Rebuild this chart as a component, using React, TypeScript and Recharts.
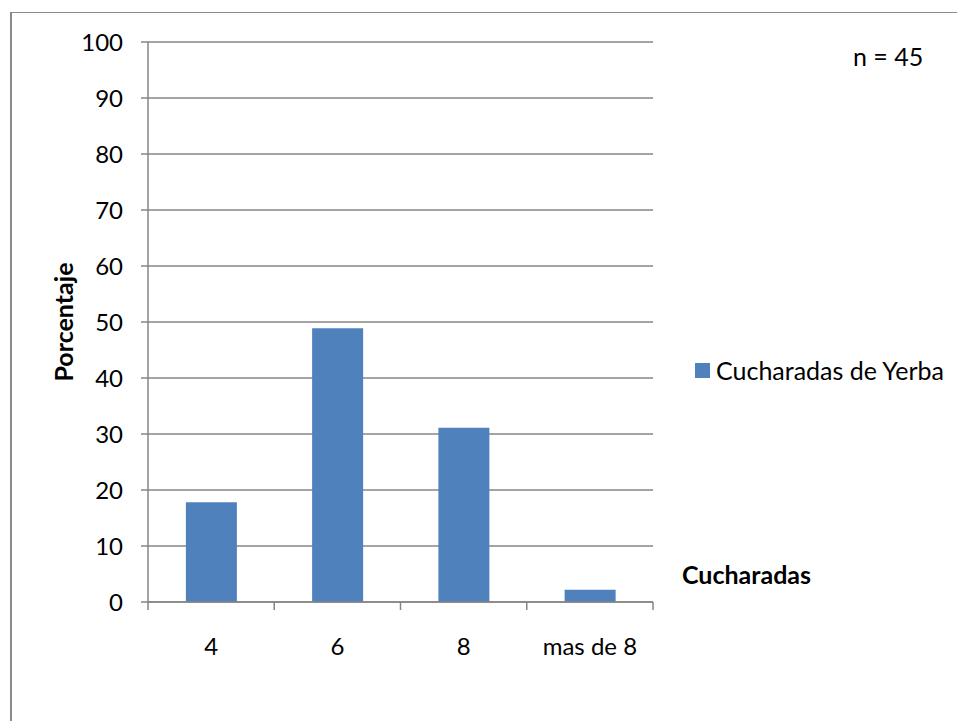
import React from "react";
import { BarChart, Bar, XAxis, YAxis, CartesianGrid, Legend } from "recharts";

const categories = ["4", "6", "8", "mas de 8"];
const porcentajes = [17.8, 48.9, 31.1, 2.2];
const yTicks = [0, 10, 20, 30, 40, 50, 60, 70, 80, 90, 100];
const seriesName = "Cucharadas de Yerba";
const xTitle = "Cucharadas";
const yTitle = "Porcentaje";
const note = "n = 45";

const data = categories.map((c, i) => ({ cat: c, value: porcentajes[i] }));

const FONT = "Lato, 'Open Sans', sans-serif";
const SIZE = 24;
const TEXT_SIZE = 25;
const GRAY = "#868686";
const BLUE = "#4f81bd";

// category ticks sit on the band edges, not the centres
function CatTick(props: any) {
  const { x, y, payload, index, visibleTicksCount } = props;
  const half = payload.offset ?? 63;
  const last = index === visibleTicksCount - 1;
  return (
    <g>
      <line x1={x - half} x2={x - half} y1={y - 8} y2={y} stroke={GRAY} strokeWidth={1.5} />
      {last && <line x1={x + half} x2={x + half} y1={y - 8} y2={y} stroke={GRAY} strokeWidth={1.5} />}
      <text x={x} y={y + 45} textAnchor="middle" fill="#000" fontFamily={FONT} fontSize={SIZE}>
        {payload.value}
      </text>
    </g>
  );
}

function LegendBox(props: any) {
  const item = props.payload?.[0];
  return (
    <div style={{ display: "flex", alignItems: "center", fontFamily: FONT, fontSize: TEXT_SIZE, lineHeight: "28px", color: "#000", whiteSpace: "nowrap" }}>
      <span style={{ display: "inline-block", width: 15, height: 15, background: item?.color ?? BLUE, marginRight: 6 }} />
      {item?.value ?? seriesName}
    </div>
  );
}

export default function App() {
  return (
    <div style={{ position: "absolute", left: 0, top: 0, width: 957, height: 721, overflow: "hidden", background: "#fff" }}>
      <div style={{ position: "absolute", left: 10, top: 12, width: 980, height: 760, borderLeft: "2px solid #8a8a8a", borderTop: "1.5px solid #8a8a8a" }} />
      <div style={{ position: "absolute", left: 853, top: 42, fontFamily: FONT, fontSize: TEXT_SIZE, lineHeight: "28px", color: "#000" }}>
        {note}
      </div>
      <div style={{ position: "absolute", left: 0, top: 0 }}>
        <BarChart width={957} height={721} data={data} margin={{ top: 42, right: 304, bottom: 59, left: 0 }} barCategoryGap="30%">
          <CartesianGrid vertical={false} stroke={GRAY} strokeWidth={1.5} />
          <XAxis
            dataKey="cat"
            height={60}
            axisLine={{ stroke: GRAY, strokeWidth: 1.5 }}
            tickLine={{ stroke: "none" }}
            tickSize={8}
            tickMargin={0}
            tick={<CatTick />}
            interval={0}
            label={{
              content: () => (
                <text x={682} y={584} fill="#000" fontFamily={FONT} fontSize={TEXT_SIZE} fontWeight="bold">
                  {xTitle}
                </text>
              ),
            }}
          />
          <YAxis
            width={148}
            domain={[0, 100]}
            ticks={yTicks}
            interval={0}
            axisLine={{ stroke: GRAY, strokeWidth: 1.5 }}
            tickLine={{ stroke: GRAY, strokeWidth: 1.5 }}
            tickSize={7}
            tickMargin={18}
            tick={{ fill: "#000", fontFamily: FONT, fontSize: SIZE }}
            label={{
              content: (p: any) => {
                const vb = p.viewBox ?? { y: 42, height: 560 };
                const cy = vb.y + vb.height / 2;
                return (
                  <text
                    x={63}
                    y={cy}
                    transform={`rotate(-90, 63, ${cy})`}
                    textAnchor="middle"
                    dominantBaseline="central"
                    fill="#000"
                    fontFamily={FONT}
                    fontSize={TEXT_SIZE}
                    fontWeight="bold"
                  >
                    {yTitle}
                  </text>
                );
              },
            }}
          />
          <Legend
            layout="horizontal"
            verticalAlign="middle"
            align="center"
            content={<LegendBox />}
            wrapperStyle={{ left: 695, top: 356, width: "auto" }}
          />
          <Bar dataKey="value" name={seriesName} fill={BLUE} isAnimationActive={false} />
        </BarChart>
      </div>
    </div>
  );
}
